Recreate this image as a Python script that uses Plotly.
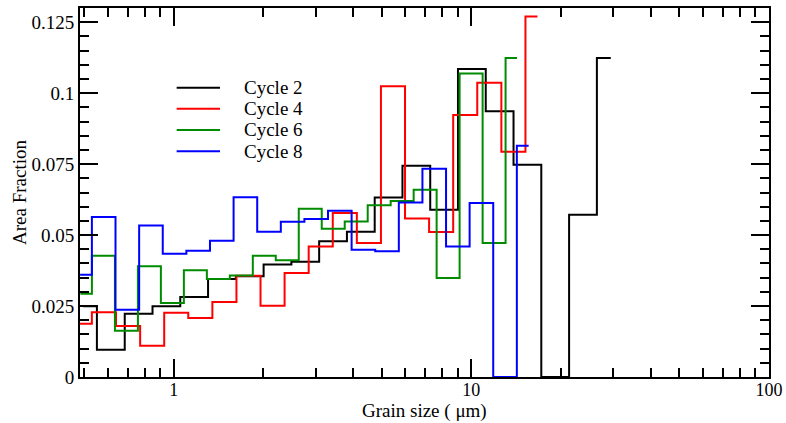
import plotly.graph_objects as go

# Grain-size distributions (bin centres in µm, area fraction per bin)
cycle2_size = [0.496, 0.615, 0.763, 0.945, 1.172, 1.453, 1.801, 2.233, 2.768, 3.431,
               4.254, 5.272, 6.536, 8.102, 10.04, 12.45, 15.43, 19.13, 23.72, 29.41]
cycle2_frac = [0.0249, 0.0096, 0.0223, 0.0249, 0.0282, 0.0345, 0.0355, 0.0396, 0.0406, 0.0478,
               0.0512, 0.0632, 0.0744, 0.0589, 0.1085, 0.0936, 0.0748, 0.0, 0.0572, 0.1124]

cycle4_size = [0.484, 0.583, 0.703, 0.847, 1.020, 1.229, 1.481, 1.784, 2.149, 2.589,
               3.120, 3.758, 4.528, 5.455, 6.572, 7.918, 9.539, 11.49, 13.85, 16.68]
cycle4_frac = [0.0188, 0.0228, 0.0180, 0.0110, 0.0226, 0.0208, 0.0264, 0.0357, 0.0251, 0.0366,
               0.0460, 0.0578, 0.0472, 0.1024, 0.0558, 0.0511, 0.0923, 0.1037, 0.0794, 0.1270]

cycle6_size = [0.486, 0.581, 0.694, 0.829, 0.990, 1.183, 1.413, 1.688, 2.016, 2.408,
               2.877, 3.436, 4.105, 4.903, 5.857, 6.996, 8.357, 9.983, 11.93, 14.24]
cycle6_frac = [0.0293, 0.0427, 0.0163, 0.0390, 0.0261, 0.0376, 0.0345, 0.0358, 0.0427, 0.0411,
               0.0593, 0.0522, 0.0548, 0.0605, 0.0620, 0.0660, 0.0349, 0.1069, 0.0472, 0.1124]

cycle8_size = [0.485, 0.582, 0.699, 0.839, 1.007, 1.209, 1.451, 1.742, 2.091, 2.510,
               3.012, 3.616, 4.340, 5.210, 6.253, 7.506, 9.010, 10.81, 12.98, 15.58]
cycle8_frac = [0.0360, 0.0564, 0.0237, 0.0534, 0.0434, 0.0445, 0.0480, 0.0633, 0.0512, 0.0547,
               0.0557, 0.0586, 0.0448, 0.0443, 0.0615, 0.0734, 0.0460, 0.0613, 0.0, 0.0815]

series_names = ["Cycle 2", "Cycle 4", "Cycle 6", "Cycle 8"]
series_colors = ["#000000", "#ff0000", "#008b00", "#0000ff"]

y_tick_vals = [0, 0.025, 0.05, 0.075, 0.1, 0.125]
y_tick_text = ["0", "0.025", "0.05", "0.075", "0.1", "0.125"]
x_tick_vals = [1, 10, 100]
x_tick_text = ["1", "10", "100"]
x_title = "Grain size ( μm)"
y_title = "Area Fraction"

FONT = "Liberation Serif, Times New Roman, serif"
FS = 19

fig = go.Figure()
for name, color, xs, ys in zip(
    series_names, series_colors,
    [cycle2_size, cycle4_size, cycle6_size, cycle8_size],
    [cycle2_frac, cycle4_frac, cycle6_frac, cycle8_frac],
):
    fig.add_trace(go.Scatter(
        x=xs, y=ys, name=name, mode="lines",
        line=dict(color=color, width=2, shape="hvh"),
    ))

# Legend drawn in paper coordinates: a short line sample plus a label per series
legend_top = 0.784
legend_step = 0.0573
for i, (name, color) in enumerate(zip(series_names, series_colors)):
    yy = legend_top - i * legend_step
    fig.add_shape(type="line", xref="paper", yref="paper",
                  x0=0.1403, x1=0.2032, y0=yy, y1=yy,
                  line=dict(color=color, width=2))
    fig.add_annotation(xref="paper", yref="paper", x=0.2347, y=yy,
                       xanchor="left", yanchor="middle", showarrow=False,
                       text=name, font=dict(family=FONT, size=FS, color="black"))

# x-axis title sits at the bottom edge of the figure
fig.add_annotation(xref="paper", yref="paper", x=0.5, y=-0.1247,
                   xanchor="center", yanchor="bottom", showarrow=False,
                   text=x_title, borderpad=0,
                   font=dict(family=FONT, size=FS, color="black"))

x_minor = [v * d for d in (0.1, 1, 10) for v in range(2, 10)]
x_minor = [v for v in x_minor if v >= 0.48]
y_minor = [round(i * 0.005, 3) for i in range(0, 27) if i % 5 != 0]

fig.update_layout(
    width=786, height=423,
    margin=dict(l=80, r=17, t=8, b=46),
    paper_bgcolor="white", plot_bgcolor="white",
    font=dict(family=FONT, size=FS, color="black"),
    showlegend=False,
    xaxis=dict(
        type="log", range=[-0.3146, 2], automargin=False, layer="above traces",
        showline=True, linecolor="black", linewidth=2, mirror="ticks",
        ticks="inside", ticklen=18, tickwidth=2, tickcolor="black",
        tickvals=x_tick_vals, ticktext=x_tick_text, ticklabelstandoff=-5,
        minor=dict(tickvals=x_minor, ticks="inside", ticklen=9, tickwidth=2,
                   tickcolor="black", showgrid=False),
        showgrid=False, zeroline=False,
        tickfont=dict(size=18),
    ),
    yaxis=dict(
        range=[0, 0.13], automargin=False, layer="above traces",
        showline=True, linecolor="black", linewidth=2, mirror="ticks",
        ticks="inside", ticklen=18, tickwidth=2, tickcolor="black",
        tickvals=y_tick_vals, ticktext=y_tick_text,
        minor=dict(tickvals=y_minor, ticks="inside", ticklen=9, tickwidth=2,
                   tickcolor="black", showgrid=False),
        showgrid=False, zeroline=False,
        title=dict(text=y_title, standoff=0, font=dict(size=FS)),
        tickfont=dict(size=FS),
    ),
)

fig.write_html("out.html")
